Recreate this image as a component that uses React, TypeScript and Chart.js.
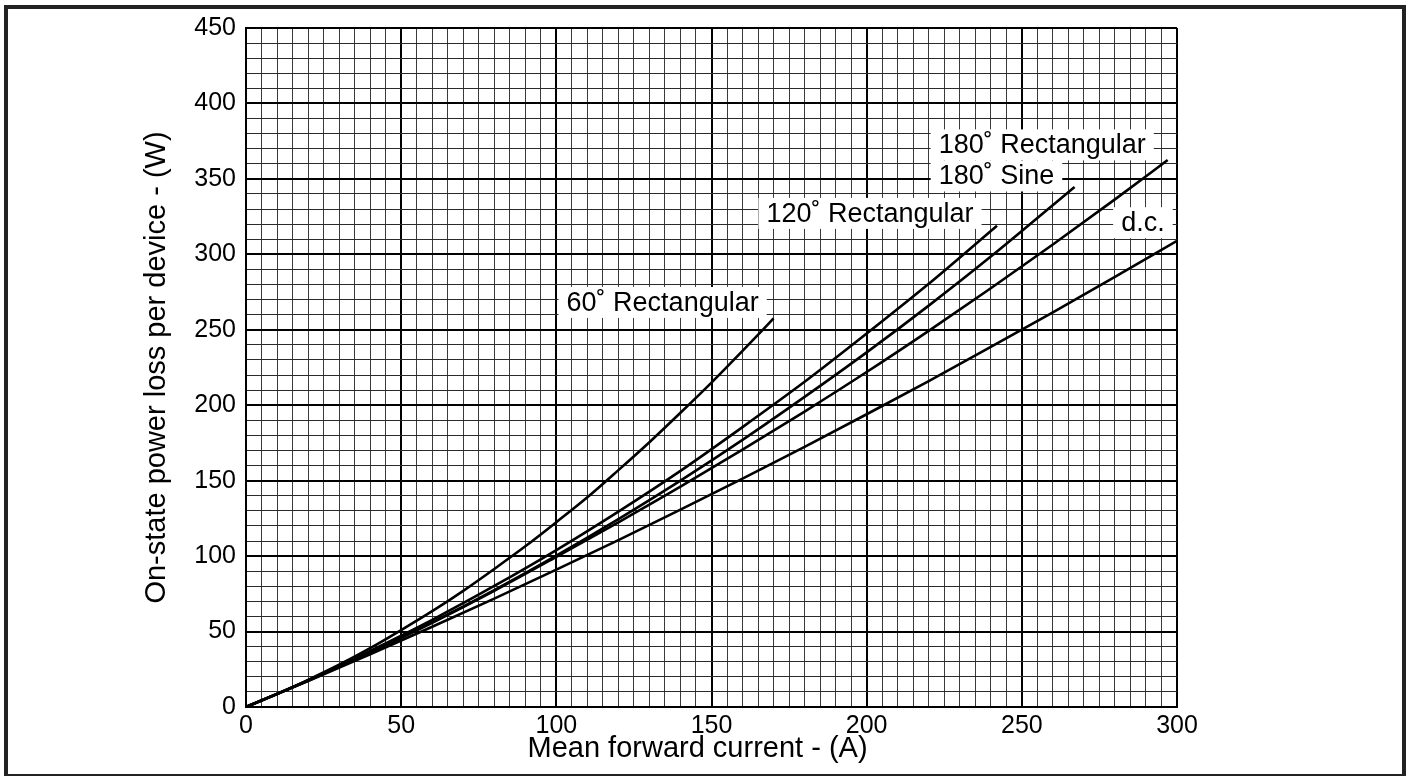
import React, { useEffect, useRef } from "react";
import { Chart, registerables } from "chart.js";

Chart.register(...registerables);

// ---- data ----
const I_60 = [0, 10, 20, 30, 40, 50, 60, 70, 80, 90, 100, 110, 120, 130, 140, 150, 160, 170];
const P_60 = [0, 8.6, 18, 28, 39, 51, 63.5, 77, 91.5, 106.5, 122.5, 139, 157, 175.5, 195, 215, 236, 257.5];

const I_120 = [0, 20, 40, 60, 80, 100, 120, 140, 160, 180, 200, 220, 242];
const P_120 = [0, 17.8, 37.2, 57.8, 80.2, 104, 129.5, 156.5, 185.5, 215.5, 247.5, 280.5, 319];

const I_180S = [0, 20, 40, 60, 80, 100, 120, 140, 160, 180, 200, 220, 240, 267];
const P_180S = [0, 17.5, 36.5, 56.2, 77.5, 100.3, 124.5, 150, 177, 205.5, 235, 266, 298.5, 344.7];

const I_180R = [0, 20, 40, 60, 80, 100, 120, 140, 160, 180, 200, 220, 240, 260, 280, 297];
const P_180R = [0, 17.4, 36, 55.8, 77, 99.5, 122.4, 146, 170.5, 195.8, 222, 249.3, 277.5, 306.5, 336.4, 362.5];

const I_DC = [0, 20, 40, 60, 80, 100, 120, 140, 160, 180, 200, 220, 240, 260, 280, 300];
const P_DC = [0, 17.2, 35, 53.2, 71.8, 91, 110.6, 130.8, 151.4, 172.4, 194, 216, 238.6, 261.6, 285, 309];

const X_TICK_LABELS = [0, 50, 100, 150, 200, 250, 300];
const Y_TICK_LABELS = [0, 50, 100, 150, 200, 250, 300, 350, 400, 450];

const SERIES_NAMES = ["60˚ Rectangular", "120˚ Rectangular", "180˚ Sine", "180˚ Rectangular", "d.c."];

// label anchors (data units: left edge of text, baseline)
const LABEL_X = [103.3, 167.7, 223.2, 223.2, 282];
const LABEL_Y = [262.5, 321.5, 346.3, 366.9, 315.3];

const X_TITLE = "Mean forward current - (A)";
const Y_TITLE = "On-state power loss per device - (W)";

const FONT = "'Liberation Sans', Arial, Helvetica, sans-serif";

function pts(xs: number[], ys: number[]) {
  return xs.map((x, i) => ({ x, y: ys[i] }));
}

const labelPlugin = {
  id: "curveLabels",
  afterDatasetsDraw(chart: any) {
    const { ctx, scales } = chart;
    const xs = scales.x;
    const ys = scales.y;
    ctx.save();
    ctx.font = `27px ${FONT}`;
    ctx.textBaseline = "alphabetic";
    ctx.textAlign = "left";
    SERIES_NAMES.forEach((name, i) => {
      const px = xs.getPixelForValue(LABEL_X[i]);
      const py = ys.getPixelForValue(LABEL_Y[i]);
      const w = ctx.measureText(name).width;
      ctx.fillStyle = "#ffffff";
      ctx.fillRect(px - 8, py - 24, w + 16, 31);
      ctx.fillStyle = "#000000";
      ctx.fillText(name, px, py);
    });
    // x-axis title (centred where the reference has it)
    ctx.font = `29px ${FONT}`;
    ctx.textAlign = "center";
    ctx.textBaseline = "middle";
    ctx.fillText(X_TITLE, xs.getPixelForValue(145.5), 749);
    ctx.restore();
  },
};

export default function App() {
  const ref = useRef<HTMLCanvasElement | null>(null);

  useEffect(() => {
    document.body.style.margin = "0";
    const canvas = ref.current;
    if (!canvas) return;
    const line = (data: { x: number; y: number }[]) => ({
      data,
      borderColor: "#000",
      borderWidth: 2.6,
      pointRadius: 0,
      fill: false,
      cubicInterpolationMode: "monotone" as const,
    });
    const chart = new Chart(canvas, {
      type: "line",
      data: {
        datasets: [
          line(pts(I_60, P_60)),
          line(pts(I_120, P_120)),
          line(pts(I_180S, P_180S)),
          line(pts(I_180R, P_180R)),
          line(pts(I_DC, P_DC)),
        ],
      },
      options: {
        animation: false,
        responsive: false,
        devicePixelRatio: 1,
        layout: { padding: { left: 0, right: 235, top: 28, bottom: 0 } },
        plugins: { legend: { display: false }, tooltip: { enabled: false } },
        scales: {
          x: {
            type: "linear",
            min: 0,
            max: 300,
            afterFit: (s: any) => {
              s.height = 69;
            },
            border: { display: true, color: "#000", width: 2 },
            grid: {
              drawTicks: false,
              color: (c: any) => (c.tick && c.tick.value % 50 === 0 ? "#000" : "#3a3a3a"),
              lineWidth: (c: any) => (c.tick && c.tick.value % 50 === 0 ? 2 : 1),
            },
            ticks: {
              stepSize: 5,
              autoSkip: false,
              maxRotation: 0,
              padding: 4,
              color: "#000",
              font: { family: FONT, size: 25 },
              callback: (v: any) => (X_TICK_LABELS.includes(Number(v)) ? String(v) : ""),
            },
            title: { display: false },
          },
          y: {
            type: "linear",
            min: 0,
            max: 450,
            afterFit: (s: any) => {
              s.width = 246;
            },
            border: { display: true, color: "#000", width: 2 },
            grid: {
              drawTicks: false,
              color: (c: any) => (c.tick && c.tick.value % 50 === 0 ? "#000" : "#2a2a2a"),
              lineWidth: (c: any) => (c.tick && c.tick.value % 50 === 0 ? 2 : 1),
            },
            ticks: {
              stepSize: 10,
              autoSkip: false,
              padding: 10,
              color: "#000",
              font: { family: FONT, size: 25 },
              callback: (v: any) => (Y_TICK_LABELS.includes(Number(v)) ? String(v) : ""),
            },
            title: {
              display: true,
              text: Y_TITLE,
              color: "#000",
              font: { family: FONT, size: 29 },
              padding: { top: 140, bottom: 0 },
            },
          },
        },
      },
      plugins: [labelPlugin],
    });
    return () => chart.destroy();
  }, []);

  return (
    <div style={{ position: "absolute", left: 0, top: 0, width: 1412, height: 776, background: "#fff", overflow: "hidden" }}>
      <canvas ref={ref} width={1412} height={776} style={{ position: "absolute", left: 0, top: 0, width: 1412, height: 776 }} />
      <div
        style={{
          position: "absolute",
          left: 4,
          top: 5,
          width: 1402,
          height: 773,
          border: "4px solid #222",
          boxSizing: "border-box",
          pointerEvents: "none",
        }}
      />
    </div>
  );
}
